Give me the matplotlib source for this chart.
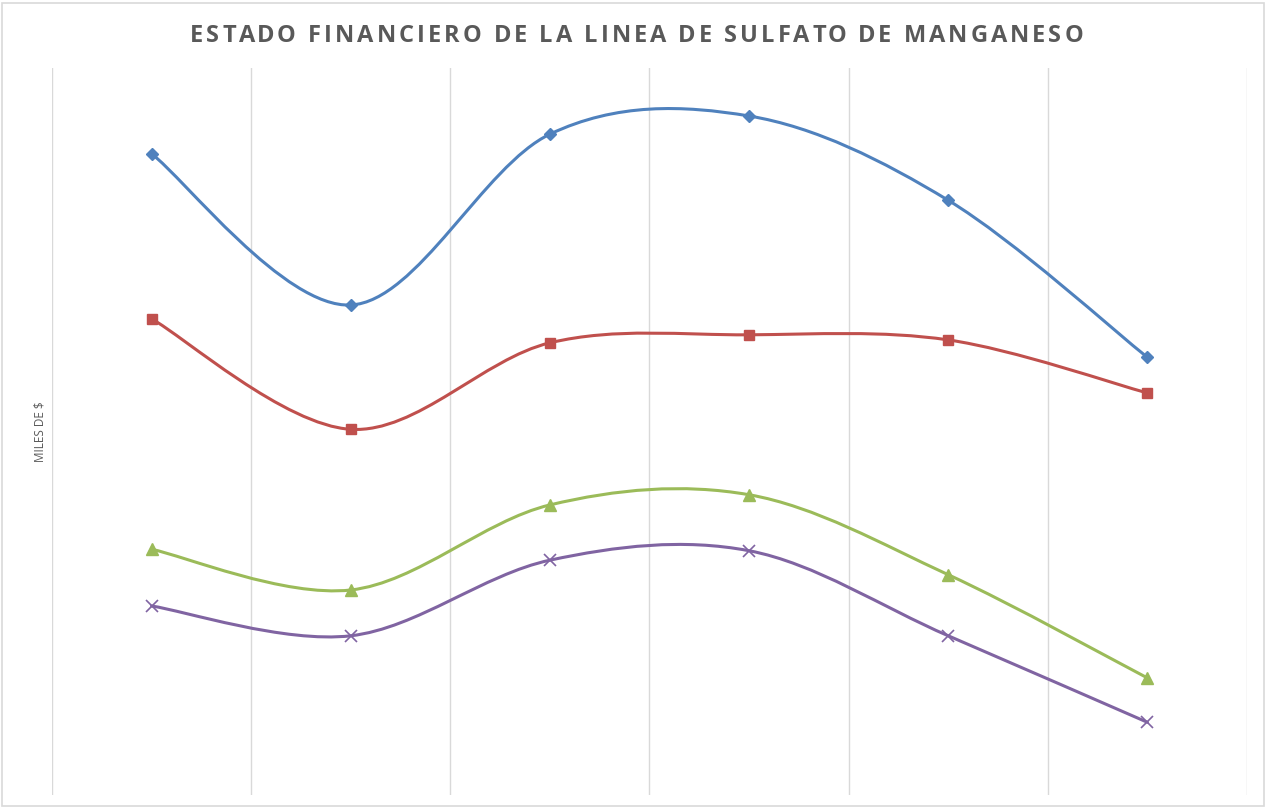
import matplotlib
matplotlib.use("Agg")
import matplotlib.pyplot as plt
from matplotlib.path import Path
from matplotlib.patches import PathPatch, Rectangle
import numpy as np

# Data (miles de $; axis has no tick labels)
categories = ["1", "2", "3", "4", "5", "6"]
serie_1 = [88.2, 67.4, 90.9, 93.4, 81.8, 60.2]
serie_2 = [65.5, 50.3, 62.2, 63.3, 62.6, 55.3]
serie_3 = [33.8, 28.2, 39.9, 41.3, 30.3, 16.1]
serie_4 = [26.0, 21.9, 32.3, 33.6, 21.9, 10.0]
title = "ESTADO FINANCIERO DE LA LINEA DE SULFATO DE MANGANESO"
ylabel = "MILES DE $"

series = [
    (serie_1, "#4F81BD", "D", 6),
    (serie_2, "#C0504D", "s", 7),
    (serie_3, "#9BBB59", "^", 8),
    (serie_4, "#8064A2", "x", 8),
]

W, H = 1268, 808
fig = plt.figure(figsize=(W / 100, H / 100), dpi=100)
fig.patches.append(Rectangle((2 / W, 2 / H), 1262 / W, 803 / H, transform=fig.transFigure,
                             fill=False, edgecolor="#d9d9d9", linewidth=1.2))
ax = fig.add_axes([52 / W, 13 / H, (1247 - 52) / W, (795 - 68) / H])
x = np.arange(1, len(categories) + 1)
ax.set_xlim(0.5, len(categories) + 0.5)
ax.set_ylim(0, 100)


def smooth_path(xs, ys):
    pts = np.column_stack([xs, ys]).astype(float)
    n = len(pts)
    verts = [pts[0]]
    codes = [Path.MOVETO]
    for i in range(n - 1):
        p0 = pts[i - 1] if i > 0 else pts[i]
        p1 = pts[i]
        p2 = pts[i + 1]
        p3 = pts[i + 2] if i + 2 < n else pts[i + 1]
        c1 = p1 + (p2 - p0) / 6.0
        c2 = p2 - (p3 - p1) / 6.0
        verts += [c1, c2, p2]
        codes += [Path.CURVE4] * 3
    return Path(verts, codes)


for vals, color, marker, ms in series:
    patch = PathPatch(smooth_path(x, vals), facecolor="none", edgecolor=color,
                      linewidth=2.2, capstyle="round", joinstyle="round", zorder=3)
    ax.add_patch(patch)
    if marker == "x":
        ax.plot(x, vals, linestyle="none", marker=marker, markersize=ms,
                markeredgecolor=color, markeredgewidth=1.2, zorder=4)
    else:
        ax.plot(x, vals, linestyle="none", marker=marker, markersize=ms,
                color=color, markeredgecolor=color, zorder=4)

for gx in np.arange(0.5, len(categories) + 1, 1.0):
    ax.axvline(gx, color="#d9d9d9", linewidth=1.0, zorder=1)

for s in ax.spines.values():
    s.set_visible(False)
ax.set_xticks([])
ax.set_yticks([])

# Letter-spaced title (character by character)
tprops = dict(fontsize=17, fontweight="bold", color="#595959", family="Open Sans")
renderer = fig.canvas.get_renderer()


def text_w(s):
    t = fig.text(0, 0, s, **tprops)
    w = t.get_window_extent(renderer).width
    t.remove()
    return w


wI = text_w("I")
prefix = [text_w(title[:i] + "I") - wI for i in range(len(title) + 1)]
natural = prefix[-1]
target_left, target_right = 190, 1083
track = max(0.0, (target_right - target_left - natural) / (len(title) - 1))
for i, ch in enumerate(title):
    if ch == " ":
        continue
    px = target_left + prefix[i] + i * track
    fig.text(px / W, 1 - 42 / H, ch, ha="left", va="baseline", **tprops)

fig.text(40 / W, 1 - 432 / H, ylabel, rotation=90, ha="center", va="center",
         fontsize=8.5, color="#595959", family="Open Sans")

fig.savefig("out.png", dpi=100, facecolor="white")
